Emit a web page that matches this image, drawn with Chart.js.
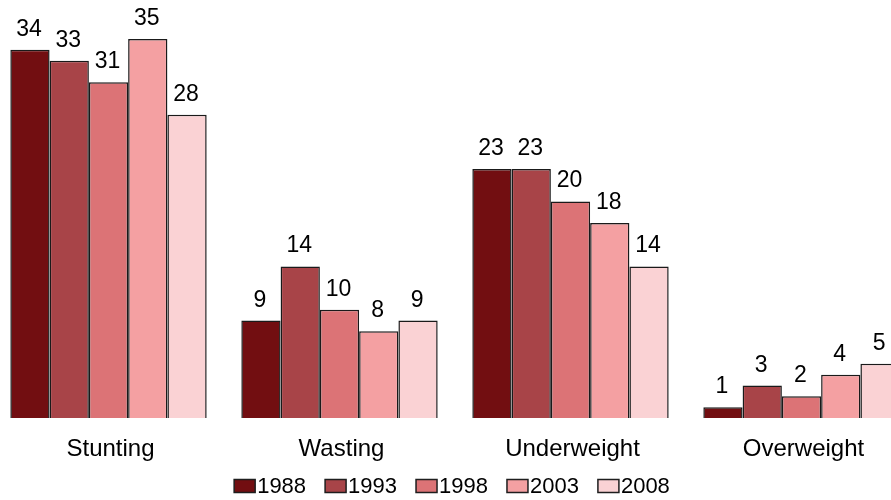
<!DOCTYPE html>
<html lang="en">
<head>
    <meta charset="UTF-8">
    <title>Malnutrition indicators by survey year</title>
    <script src="https://cdn.jsdelivr.net/npm/chart.js@4.4.0/dist/chart.umd.min.js"></script>
    <style>
        html, body { margin: 0; padding: 0; overflow: hidden; background: #fff; }
        #wrap { position: absolute; left: -7px; top: 0; width: 924px; height: 500px; }
    </style>
</head>
<body>
    <div id="wrap"><canvas id="myChart"></canvas></div>
</body>
<script>
    // data
    var categories = ['Stunting', 'Wasting', 'Underweight', 'Overweight'];
    var years = ['1988', '1993', '1998', '2003', '2008'];
    var v1988 = [34, 9, 23, 1];
    var v1993 = [33, 14, 23, 3];
    var v1998 = [31, 10, 20, 2];
    var v2003 = [35, 8, 18, 4];
    var v2008 = [28, 9, 14, 5];
    var colors = ['rgb(114,14,17)', 'rgb(168,68,72)', 'rgb(220,115,118)', 'rgb(244,160,162)', 'rgb(250,210,212)'];

    var FONT = '"Liberation Sans", Arial, sans-serif';
    var series = [v1988, v1993, v1998, v2003, v2008];

    var valueLabels = {
        id: 'valueLabels',
        afterDatasetsDraw: function(chart) {
            var ctx = chart.ctx;
            ctx.save();
            ctx.font = '23px ' + FONT;
            ctx.fillStyle = '#000';
            ctx.textAlign = 'center';
            ctx.textBaseline = 'alphabetic';
            chart.data.datasets.forEach(function(ds, i) {
                chart.getDatasetMeta(i).data.forEach(function(bar, j) {
                    ctx.fillText(String(ds.data[j]), bar.x - 1, bar.y - 14);
                });
            });
            ctx.restore();
        }
    };

    // legend drawn by hand: small gap between box and text
    var bottomLegend = {
        id: 'bottomLegend',
        afterDraw: function(chart) {
            var ctx = chart.ctx;
            ctx.save();
            ctx.font = '22px ' + FONT;
            var boxW = 21, boxH = 13, gap = 2, spacing = 19;
            var total = 0;
            chart.data.datasets.forEach(function(ds, i) {
                total += boxW + gap + ctx.measureText(ds.label).width + (i ? spacing : 0);
            });
            var x = 459 - total / 2;
            var cy = 486;
            chart.data.datasets.forEach(function(ds) {
                ctx.fillStyle = ds.backgroundColor;
                ctx.fillRect(x, cy - boxH / 2, boxW, boxH);
                ctx.strokeStyle = '#1e1e1e';
                ctx.lineWidth = 1.5;
                ctx.strokeRect(x, cy - boxH / 2, boxW, boxH);
                x += boxW + gap;
                ctx.fillStyle = '#000';
                ctx.textBaseline = 'middle';
                ctx.fillText(ds.label, x, cy + 1);
                x += ctx.measureText(ds.label).width + spacing;
            });
            ctx.restore();
        }
    };

    var ctx = document.getElementById('myChart').getContext('2d');
    var chart = new Chart(ctx, {
        type: 'bar',
        data: {
            labels: categories,
            datasets: series.map(function(d, i) {
                return {
                    label: years[i],
                    data: d,
                    backgroundColor: colors[i],
                    borderColor: '#1a1a1a',
                    borderWidth: 1.5,
                    categoryPercentage: 0.85,
                    barPercentage: 1.0
                };
            })
        },
        options: {
            responsive: true,
            maintainAspectRatio: false,
            animation: false,
            layout: { padding: 0 },
            plugins: {
                legend: { display: false },
                tooltip: { enabled: false }
            },
            scales: {
                x: {
                    grid: { display: false, drawTicks: false },
                    border: { display: false },
                    ticks: {
                        color: '#000',
                        padding: 17,
                        labelOffset: 2,
                        font: { family: FONT, size: 24 }
                    },
                    afterFit: function(scale) { scale.height = 82; }
                },
                y: {
                    display: false,
                    min: 0,
                    max: 38.6
                }
            }
        },
        plugins: [valueLabels, bottomLegend]
    });
</script>
</html>
